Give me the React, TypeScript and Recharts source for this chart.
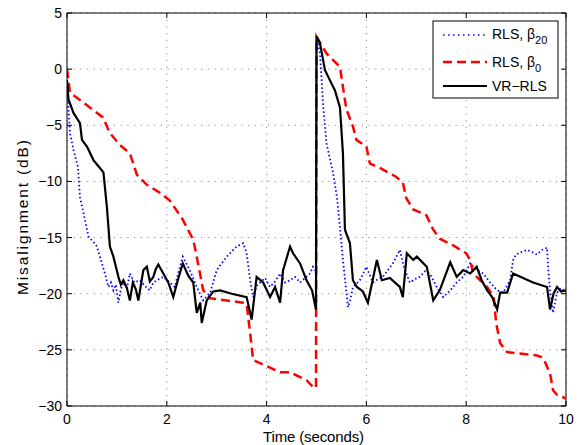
import React from 'react';
import { LineChart, Line, XAxis, YAxis, CartesianGrid, ReferenceLine } from 'recharts';

// ---- data (time in seconds, misalignment in dB) ----
const xTicks = [0, 2, 4, 6, 8, 10];
const yTicks = [-30, -25, -20, -15, -10, -5, 0, 5];
const seriesNames = ['RLS, β', 'RLS, β', 'VR−RLS'];
const seriesSubs = ['20', '0', ''];

const rlsBeta20: [number, number][] = [
  [0, -1.5], [0.03, -3.6], [0.06, -5.7], [0.13, -7.2], [0.22, -8.7], [0.26, -11.4], [0.33, -12.8],
  [0.43, -14.9], [0.53, -15.4], [0.6, -15.8], [0.66, -16.7], [0.76, -18.2], [0.83, -19.4], [0.88, -19.0],
  [0.93, -19.7], [0.98, -19.2], [1.03, -20.8], [1.08, -19.6], [1.13, -19.0], [1.2, -19.5], [1.26, -18.2],
  [1.35, -19.0], [1.46, -18.8], [1.56, -19.3], [1.66, -19.7], [1.73, -19.0], [1.8, -18.8], [1.93, -18.5],
  [2.06, -19.0], [2.16, -19.4], [2.25, -17.8], [2.32, -16.7], [2.46, -17.9], [2.6, -19.4], [2.73, -20.6],
  [2.87, -19.9], [3.0, -17.9], [3.2, -16.7], [3.4, -15.8], [3.53, -15.5], [3.6, -16.4], [3.67, -18.8],
  [3.73, -20.3], [3.8, -19.3], [3.87, -19.0], [3.97, -18.6], [4.07, -19.4], [4.17, -18.9], [4.27, -18.2],
  [4.37, -19.0], [4.47, -18.8], [4.57, -18.5], [4.67, -19.0], [4.77, -18.6], [4.87, -18.2], [4.93, -17.6],
  [4.99, -18.0], [5.0, 2.9], [5.07, 1.4], [5.13, -3.0], [5.2, -6.6], [5.33, -9.2], [5.41, -11.4],
  [5.47, -14.1], [5.53, -17.0], [5.61, -20.3], [5.63, -21.2], [5.68, -20.5], [5.73, -19.4], [5.87, -18.8],
  [6.0, -17.6], [6.13, -19.0], [6.23, -18.7], [6.33, -18.5], [6.43, -17.9], [6.53, -17.3], [6.67, -16.1],
  [6.75, -17.6], [6.87, -19.0], [6.97, -18.7], [7.07, -18.5], [7.17, -18.0], [7.27, -18.2], [7.41, -19.4],
  [7.54, -20.3], [7.68, -19.7], [7.81, -19.0], [7.94, -18.5], [8.08, -17.3], [8.21, -17.9], [8.34, -18.2],
  [8.48, -19.0], [8.62, -19.7], [8.74, -19.9], [8.88, -18.8], [8.94, -17.0], [9.0, -16.5], [9.1, -16.3],
  [9.22, -16.1], [9.32, -16.3], [9.42, -16.5], [9.52, -16.1], [9.62, -15.9], [9.64, -17.6], [9.68, -19.7],
  [9.74, -21.7], [9.82, -19.9], [9.9, -19.5], [10, -19.9],
];

const rlsBeta0: [number, number][] = [
  [0, 0], [0.06, -2.1], [0.26, -2.75], [0.72, -4.3], [0.86, -5.7], [1.06, -6.75], [1.26, -7.5],
  [1.4, -9.4], [1.6, -10.3], [1.86, -11.0], [2.06, -11.7], [2.32, -13.4], [2.53, -15.2], [2.6, -16.7],
  [2.73, -19.7], [2.87, -20.4], [3.2, -20.6], [3.53, -20.8], [3.6, -20.9], [3.67, -23.5], [3.73, -25.9],
  [3.93, -26.3], [4.27, -27.0], [4.47, -27.0], [4.8, -27.7], [4.93, -28.3], [4.99, -28.4], [5.0, 2.9],
  [5.2, 1.4], [5.47, 0.2], [5.53, -1.6], [5.6, -3.6], [5.73, -5.1], [5.8, -6.3], [6.0, -6.9], [6.07, -8.4],
  [6.27, -8.8], [6.6, -9.6], [6.73, -10.1], [6.8, -11.5], [6.94, -12.5], [7.2, -13.0], [7.34, -14.3],
  [7.47, -15.1], [7.74, -15.7], [8.0, -16.4], [8.08, -17.0], [8.14, -18.2], [8.28, -18.8], [8.42, -19.4],
  [8.55, -20.3], [8.6, -22.6], [8.68, -24.4], [8.82, -25.2], [9.0, -25.3], [9.42, -25.5], [9.54, -25.7],
  [9.68, -27.1], [9.74, -28.6], [9.82, -29.0], [9.98, -29.3], [10, -29.4],
];

const vrRls: [number, number][] = [
  [0, -1.0], [0.03, -2.7], [0.13, -3.9], [0.26, -4.8], [0.3, -6.3], [0.4, -6.9], [0.53, -8.1],
  [0.66, -8.8], [0.73, -9.2], [0.8, -12.3], [0.86, -15.8], [0.93, -16.7], [1.03, -18.5], [1.08, -19.2],
  [1.13, -18.8], [1.2, -19.5], [1.26, -20.6], [1.32, -19.0], [1.38, -19.6], [1.43, -20.6], [1.53, -17.9],
  [1.6, -17.6], [1.66, -18.9], [1.73, -18.5], [1.78, -17.8], [1.83, -17.4], [1.93, -18.2], [2.03, -19.0],
  [2.13, -20.3], [2.22, -18.8], [2.32, -17.3], [2.43, -18.4], [2.53, -19.0], [2.6, -21.7], [2.67, -20.8],
  [2.7, -22.6], [2.8, -20.6], [2.93, -19.8], [3.07, -19.7], [3.3, -20.0], [3.6, -20.3], [3.7, -22.3],
  [3.8, -18.5], [3.93, -19.0], [4.07, -20.3], [4.17, -19.4], [4.27, -20.8], [4.33, -17.9], [4.47, -15.8],
  [4.53, -16.4], [4.67, -17.3], [4.8, -18.8], [4.91, -19.7], [4.99, -21.4], [5.0, 2.9], [5.07, 2.3],
  [5.17, -0.1], [5.27, -1.0], [5.37, -1.9], [5.47, -3.4], [5.53, -7.5], [5.57, -14.3], [5.67, -15.5],
  [5.73, -18.8], [5.81, -19.4], [5.93, -19.8], [6.03, -20.8], [6.21, -17.0], [6.31, -18.8], [6.47, -18.6],
  [6.67, -19.4], [6.73, -20.3], [6.81, -16.4], [6.94, -17.0], [7.01, -16.7], [7.21, -17.6], [7.34, -20.6],
  [7.47, -19.7], [7.68, -17.2], [7.81, -18.5], [7.94, -17.9], [8.08, -18.2], [8.21, -17.6], [8.31, -18.8],
  [8.42, -19.7], [8.52, -20.3], [8.62, -21.4], [8.68, -19.9], [8.82, -19.9], [8.94, -18.2], [9.14, -18.6],
  [9.34, -19.0], [9.62, -19.4], [9.68, -21.4], [9.75, -20.0], [9.82, -19.4], [9.9, -19.8], [10, -19.7],
];

// ---- layout ----
const W = 576;
const H = 442;
const SHIFT = 5; // wrapper is raised by this much so the top tick label is not clipped
const MARGIN = { top: 10, right: 18, bottom: 1, left: 9 };
const Y_AXIS_W = 50;
const X_AXIS_H = 38;
const PLOT_TOP = MARGIN.top;
const PLOT_RIGHT = W - MARGIN.right;
const FONT = '"Liberation Sans", Arial, Helvetica, sans-serif';
const TICK_LEN = 5;

const rows = (pts: [number, number][]) => pts.map(([t, v]) => ({ t, v }));
const fmt = (v: number) => (v < 0 ? '\u2212' + Math.abs(v) : String(v));

const XTick = (props: any) => {
  const { x, y, payload } = props;
  return (
    <g>
      <line x1={x} x2={x} y1={y} y2={y - TICK_LEN} stroke="#000" strokeWidth={1} />
      <line x1={x} x2={x} y1={PLOT_TOP} y2={PLOT_TOP + TICK_LEN} stroke="#000" strokeWidth={1} />
      <text x={x} y={y + 8} dy="0.72em" textAnchor="middle" fontSize={14} fontFamily={FONT} fill="#000">
        {fmt(payload.value)}
      </text>
    </g>
  );
};

const YTick = (props: any) => {
  const { x, y, payload } = props;
  return (
    <g>
      <line x1={x} x2={x + TICK_LEN} y1={y} y2={y} stroke="#000" strokeWidth={1} />
      <line x1={PLOT_RIGHT - TICK_LEN} x2={PLOT_RIGHT} y1={y} y2={y} stroke="#000" strokeWidth={1} />
      <text x={x - 5} y={y} dy="0.36em" textAnchor="end" fontSize={14} fontFamily={FONT} fill="#000">
        {fmt(payload.value)}
      </text>
    </g>
  );
};

const Legend = () => {
  const bx = 425, by = 13 + SHIFT, bw = 125, bh = 77;
  const lineY = [27 + SHIFT, 54 + SHIFT, 78 + SHIFT];
  const textY = [31 + SHIFT, 59 + SHIFT, 83 + SHIFT];
  return (
    <g fontFamily={FONT} fontSize={14} fill="#000">
      <rect x={bx} y={by} width={bw} height={bh} fill="#fff" stroke="#000" strokeWidth={1} />
      <line x1={435} x2={479} y1={lineY[0]} y2={lineY[0]} stroke="#0000ff" strokeWidth={1.5} strokeDasharray="1.5 3.5" />
      <line x1={435} x2={479} y1={lineY[1]} y2={lineY[1]} stroke="#ff0000" strokeWidth={2.5} strokeDasharray="9 5" />
      <line x1={435} x2={479} y1={lineY[2]} y2={lineY[2]} stroke="#000" strokeWidth={2} />
      {seriesNames.map((name, i) => (
        <text key={i} x={484} y={textY[i]}>
          {name}
          {seriesSubs[i] ? (
            <tspan dy={5} fontSize={11}>{seriesSubs[i]}</tspan>
          ) : null}
        </text>
      ))}
    </g>
  );
};

export default function App() {
  return (
    <div style={{ position: 'relative', width: W, height: H, marginTop: -SHIFT }}>
      <LineChart width={W} height={H} margin={MARGIN}>
        <CartesianGrid stroke="#8a8a8a" strokeDasharray="1.2 5.5" strokeWidth={1} />
        <XAxis
          dataKey="t"
          type="number"
          domain={[0, 10]}
          ticks={xTicks}
          interval={0}
          height={X_AXIS_H}
          tickSize={0}
          tickMargin={0}
          tickLine={false}
          axisLine={{ stroke: '#000', strokeWidth: 1 }}
          tick={<XTick />}
          allowDataOverflow
        />
        <YAxis
          type="number"
          domain={[-30, 5]}
          ticks={yTicks}
          interval={0}
          width={Y_AXIS_W}
          tickSize={0}
          tickMargin={0}
          tickLine={false}
          axisLine={{ stroke: '#000', strokeWidth: 1 }}
          tick={<YTick />}
          allowDataOverflow
        />
        <ReferenceLine y={5} stroke="#000" strokeWidth={1} />
        <ReferenceLine x={10} stroke="#000" strokeWidth={1} />
        <Line
          data={rows(rlsBeta20)}
          dataKey="v"
          type="linear"
          stroke="#0000ff"
          strokeWidth={1.8}
          strokeDasharray="1.5 2.5"
          dot={false}
          isAnimationActive={false}
        />
        <Line
          data={rows(rlsBeta0)}
          dataKey="v"
          type="linear"
          stroke="#ff0000"
          strokeWidth={2.5}
          strokeDasharray="9 5"
          dot={false}
          isAnimationActive={false}
        />
        <Line
          data={rows(vrRls)}
          dataKey="v"
          type="linear"
          stroke="#000"
          strokeWidth={2.2}
          dot={false}
          isAnimationActive={false}
        />
      </LineChart>
      <svg width={W} height={H} style={{ position: 'absolute', left: 0, top: 0, pointerEvents: 'none' }}>
        <Legend />
        <text x={305.5} y={433.5 + SHIFT} textAnchor="middle" fontSize={15} fontFamily={FONT} fill="#000" textLength={101}>
          Time (seconds)
        </text>
        <text
          transform={`translate(20.3, ${209.5 + SHIFT}) rotate(-90)`}
          x={0}
          y={0}
          textAnchor="middle"
          fontSize={15.5}
          fontFamily={FONT}
          fill="#000"
          textLength={155}
        >
          Misalignment (dB)
        </text>
      </svg>
    </div>
  );
}
